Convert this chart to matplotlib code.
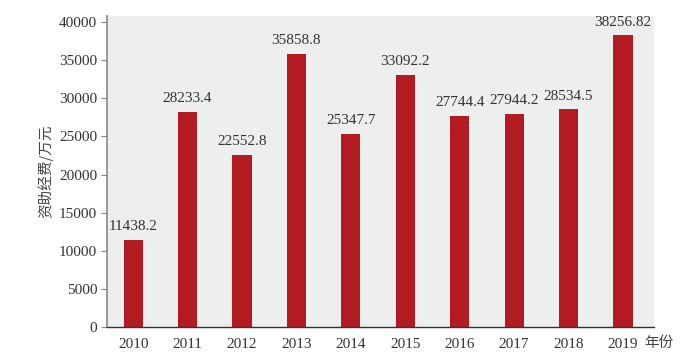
import matplotlib.pyplot as plt

years = ["2010", "2011", "2012", "2013", "2014", "2015", "2016", "2017", "2018", "2019"]
funds = [11438.2, 28233.4, 22552.8, 35858.8, 25347.7, 33092.2, 27744.4, 27944.2, 28534.5, 38256.82]
labels = ["11438.2", "28233.4", "22552.8", "35858.8", "25347.7", "33092.2",
          "27744.4", "27944.2", "28534.5", "38256.82"]
yticks = [0, 5000, 10000, 15000, 20000, 25000, 30000, 35000, 40000]

serif = ["Liberation Serif", "DejaVu Serif"]
cjk = ["Noto Sans CJK SC", "DejaVu Sans"]

fig = plt.figure(figsize=(7, 3.59), dpi=100)
ax = fig.add_axes([107 / 700, 1 - 327 / 359, (654 - 107) / 700, (327 - 16) / 359])
ax.set_facecolor("#edeeee")

x = range(len(years))
ax.bar(x, funds, width=0.35, color="#b31b23", zorder=2)
for i, (v, s) in enumerate(zip(funds, labels)):
    ax.text(i, v + 900, s, ha="center", va="bottom", fontsize=11,
            family=serif, color="#333333")

ax.set_xlim(-0.48, 9.57)
ax.set_ylim(0, 40800)
ax.set_xticks(list(x))
ax.set_xticklabels(years, family=serif, fontsize=11, color="#333333")
ax.set_yticks(yticks)
ax.set_yticklabels([str(t) for t in yticks], family=serif, fontsize=11, color="#333333")
ax.tick_params(axis="x", length=0, pad=8)
ax.tick_params(axis="y", length=4, color="#888888", pad=3)

for side in ["top", "right"]:
    ax.spines[side].set_visible(False)
ax.spines["left"].set_color("#888888")
ax.spines["left"].set_linewidth(1.2)
ax.spines["bottom"].set_color("#333333")
ax.spines["bottom"].set_linewidth(1.0)

ax.set_ylabel("资助经费/万元", family=cjk, fontsize=10.5, color="#444444", labelpad=4)
fig.text(659 / 700, 1 - 343 / 359, "年份", family=cjk, fontsize=10.5,
         color="#444444", ha="center", va="center")

fig.savefig("out.png", dpi=100)
